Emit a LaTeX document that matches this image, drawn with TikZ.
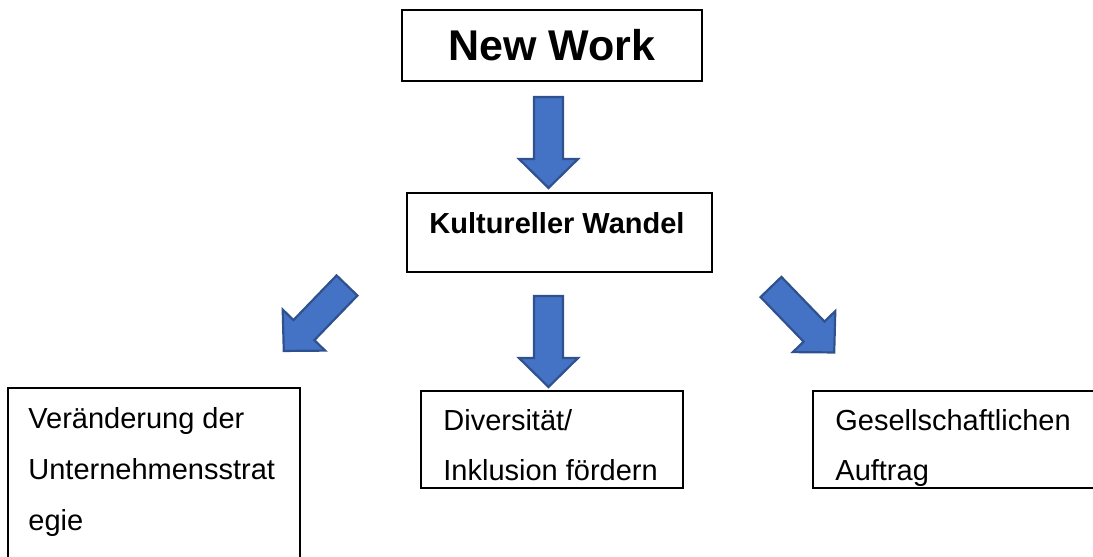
\documentclass[tikz,border=0pt]{standalone}
\usepackage{fontspec}
\setmainfont{Liberation Sans}
\definecolor{arrowblue}{HTML}{4472C4}
\definecolor{arrowedge}{HTML}{2F528F}
\tikzset{
  box/.style={draw=black, line width=1pt, fill=white, inner sep=0pt, outer sep=0pt, anchor=north west},
  lbl/.style={anchor=base west, inner sep=0pt, font=\fontsize{14.5}{25}\selectfont},
  blbl/.style={anchor=base west, inner sep=0pt, font=\fontsize{14.5}{25}\selectfont\bfseries},
  barrow/.style={fill=arrowblue, draw=arrowedge, line width=1.1pt, line join=miter},
}
\newcommand{\blockarrowshape}{%
  (-14.5,0) -- (14.5,0) -- (14.5,62) -- (29.5,62) -- (0,91) -- (-29.5,62) -- (-14.5,62) -- cycle}
\begin{document}
\begin{tikzpicture}[x=0.5pt, y=-0.5pt]
\useasboundingbox (0,0) rectangle (1093,557);
\clip (0,0) rectangle (1093,557);

% top box
\node[box, minimum width=150pt, minimum height=35.5pt] (nw) at (402,10) {};
\node[inner sep=0pt, font=\fontsize{21.5}{26}\selectfont\bfseries] (nwt) at (nw.center) {New Work};

% second box
\node[box, minimum width=152.5pt, minimum height=39.5pt] (kw) at (407,193) {};
\node[blbl] (kwt) at (429,233) {Kultureller Wandel};

% bottom boxes
\node[box, minimum width=146pt, minimum height=110pt] (lb) at (8,388) {};
\node[lbl] (lb1) at (28,428) {Veränderung der};
\node[lbl] (lb2) at (28,479) {Unternehmensstrat};
\node[lbl] (lb3) at (28,530) {egie};

\node[box, minimum width=131pt, minimum height=48.5pt] (mb) at (421,391) {};
\node[lbl] (mb1) at (443,430) {Diversität/};
\node[lbl] (mb2) at (443,480) {Inklusion fördern};

\node[box, minimum width=150pt, minimum height=48.5pt] (rb) at (813,391) {};
\node[lbl] (rb1) at (835,430) {Gesellschaftlichen};
\node[lbl] (rb2) at (835,480) {Auftrag};

% block arrows
\coordinate (a1) at (548.5,97);
\coordinate (a2) at (548.5,296);
\coordinate (a3) at (347,285.5);
\coordinate (a4) at (771,287);
\begin{scope}[shift={(a1)}] \draw[barrow] \blockarrowshape; \end{scope}
\begin{scope}[shift={(a2)}] \draw[barrow] \blockarrowshape; \end{scope}
\begin{scope}[shift={(a3)}, rotate=-44] \draw[barrow] \blockarrowshape; \end{scope}
\begin{scope}[shift={(a4)}, rotate=44] \draw[barrow] \blockarrowshape; \end{scope}
\end{tikzpicture}
\end{document}
